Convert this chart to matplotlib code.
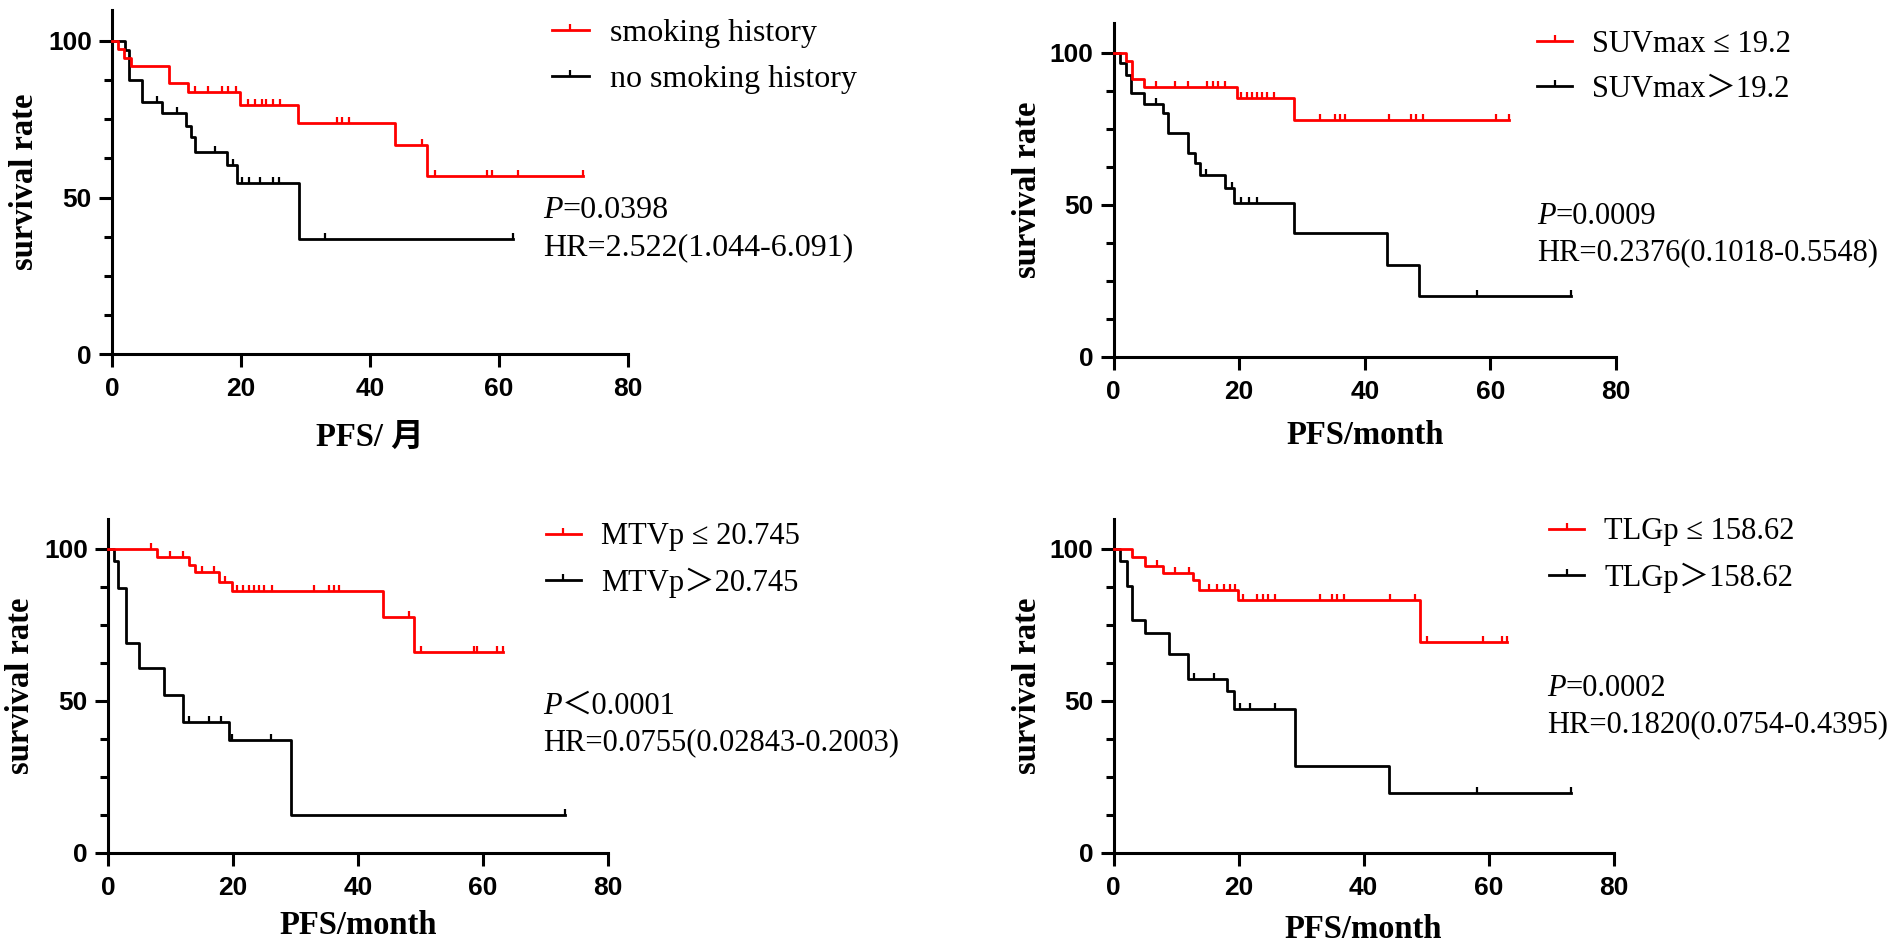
import numpy as np
import matplotlib
matplotlib.use('Agg')
import matplotlib.pyplot as plt
from matplotlib.lines import Line2D
from matplotlib.font_manager import FontProperties
from matplotlib.ticker import FixedLocator

# ---------------- data ----------------
# Panel 1: smoking history
p1_red_t = [0, 0.9, 1.8, 2.9, 8.9, 11.8, 19.9, 28.9, 43.9, 48.9]
p1_red_s = [100, 97.3, 94.6, 91.9, 86.5, 83.8, 79.7, 73.8, 66.8, 57.0]
p1_red_c = [12.8, 14.9, 17.0, 18.0, 19.3, 21.1, 22.1, 23.2, 23.9, 25.0, 26.0,
            34.9, 35.7, 36.8, 48.0, 50.1, 58.1, 58.9, 62.9, 73.0]
p1_blk_t = [0, 2.0, 2.7, 4.7, 7.8, 11.5, 12.3, 12.9, 17.8, 19.4, 29.0]
p1_blk_s = [100, 97.1, 87.6, 80.5, 77.0, 72.8, 69.4, 64.6, 60.3, 54.7, 36.8]
p1_blk_c = [6.9, 10.0, 15.9, 18.8, 20.2, 21.3, 23.0, 24.9, 25.9, 33.0, 62.2]

# Panel 2: SUVmax
p2_red_t = [0, 2.0, 3.0, 4.9, 19.7, 28.8]
p2_red_s = [100, 97.5, 91.5, 88.7, 85.2, 77.8]
p2_red_c = [6.8, 9.8, 11.8, 14.9, 15.8, 16.7, 17.8, 20.3, 21.2, 22.0, 22.9, 23.7,
            24.5, 25.5, 32.8, 35.3, 36.0, 36.9, 43.9, 47.3, 48.2, 49.2, 60.9, 62.9]
p2_blk_t = [0, 1.0, 1.9, 2.7, 4.9, 7.8, 8.7, 11.8, 12.9, 13.7, 17.8, 19.2, 28.8, 43.6, 48.7]
p2_blk_s = [100, 96.7, 92.9, 86.8, 83.3, 80.2, 73.6, 67.0, 63.7, 59.9, 55.5, 50.5, 40.7, 30.3, 20.2]
p2_blk_c = [6.7, 14.7, 18.9, 20.3, 21.5, 22.8, 57.8, 72.8]

# Panel 3: MTVp
p3_red_t = [0, 7.8, 12.9, 13.9, 17.8, 19.8, 44.0, 49.0]
p3_red_s = [100, 97.4, 94.8, 92.3, 89.3, 86.3, 77.5, 66.0]
p3_red_c = [6.9, 9.9, 12.0, 15.0, 16.9, 18.7, 20.7, 21.6, 22.5, 23.3, 24.2, 25.0,
            26.2, 33.0, 35.3, 36.2, 37.0, 48.2, 50.0, 58.5, 59.0, 62.2, 63.2]
p3_blk_t = [0, 0.9, 1.6, 2.9, 4.9, 9.0, 12.0, 19.4, 29.2]
p3_blk_s = [100, 95.9, 87.1, 69.2, 60.7, 52.0, 43.2, 37.1, 12.4]
p3_blk_c = [12.9, 16.2, 18.0, 19.9, 26.0, 73.1]

# Panel 4: TLGp
p4_red_t = [0, 3.0, 5.0, 7.9, 12.7, 13.6, 19.9, 49.1]
p4_red_s = [100, 97.4, 94.5, 92.1, 89.7, 86.4, 83.1, 69.3]
p4_red_c = [7.0, 9.9, 12.1, 15.2, 16.6, 17.6, 18.6, 19.5, 20.7, 23.0, 23.9, 24.7,
            25.9, 33.0, 34.9, 35.8, 36.9, 44.2, 48.2, 50.1, 59.1, 62.1, 62.9]
p4_blk_t = [0, 1.0, 2.1, 3.0, 5.0, 8.9, 11.9, 18.2, 19.2, 29.0, 44.0]
p4_blk_s = [100, 95.9, 87.9, 76.7, 72.5, 65.5, 57.3, 53.4, 47.3, 28.6, 19.6]
p4_blk_c = [12.9, 16.0, 20.2, 21.9, 25.9, 58.1, 73.2]

legend_labels = [
    ["smoking history", "no smoking history"],
    ["SUVmax \u2264 19.2", "SUVmax\uff1e19.2"],
    ["MTVp \u2264 20.745", "MTVp\uff1e20.745"],
    ["TLGp \u2264 158.62", "TLGp\uff1e158.62"],
]
p_texts = ["=0.0398", "=0.0009", "\uff1c0.0001", "=0.0002"]
hr_texts = ["HR=2.522(1.044-6.091)", "HR=0.2376(0.1018-0.5548)",
            "HR=0.0755(0.02843-0.2003)", "HR=0.1820(0.0754-0.4395)"]
x_labels = ["PFS/ \u6708", "PFS/month", "PFS/month", "PFS/month"]
y_label = "survival rate"
x_ticks = [0, 20, 40, 60, 80]
y_ticks = [0, 50, 100]
y_minor = [12.5, 25, 37.5, 62.5, 75, 87.5]

curves = [
    (p1_red_t, p1_red_s, p1_red_c, p1_blk_t, p1_blk_s, p1_blk_c),
    (p2_red_t, p2_red_s, p2_red_c, p2_blk_t, p2_blk_s, p2_blk_c),
    (p3_red_t, p3_red_s, p3_red_c, p3_blk_t, p3_blk_s, p3_blk_c),
    (p4_red_t, p4_red_s, p4_red_c, p4_blk_t, p4_blk_s, p4_blk_c),
]

# ---------------- style / layout ----------------
plt.rcParams['font.family'] = ['Liberation Sans', 'DejaVu Sans']
plt.rcParams['font.weight'] = 'bold'
SERIF = ['Liberation Serif', 'Noto Sans CJK SC', 'DejaVu Sans']
RED = '#FF0000'
BLACK = '#000000'
LW = 2.0
W, H = 1901, 944

# (left px, x-axis y px, width px, height px), font size, legend anchor, P pos, HR y, xlabel dy, ylabel dx
layouts = [
    dict(box=(112, 354, 516, 344.3), fs=23, leg=(552, 56.5), p=(543, 207), hr=245, xdy=80, ydx=87),
    dict(box=(1113.6, 357, 502.4, 334.4), fs=22, leg=(1537, 66.5), p=(1537, 213), hr=250, xdy=75, ydx=86.6),
    dict(box=(108, 853, 500, 334.4), fs=22, leg=(545.7, 560), p=(543, 703), hr=740, xdy=70, ydx=88),
    dict(box=(1113.6, 853, 500, 334.4), fs=22, leg=(1549, 555), p=(1547, 685), hr=722, xdy=74, ydx=86.6),
]

fig = plt.figure(figsize=(W / 100, H / 100), dpi=100)


def km(ax, t, s, c, color, z):
    t = np.asarray(t, float)
    s = np.asarray(s, float)
    c = np.asarray(c, float)
    tt = np.append(t, c.max())
    ss = np.append(s, s[-1])
    ax.step(tt, ss, where='post', color=color, lw=LW, clip_on=False, zorder=z)
    cy = s[np.searchsorted(t, c, side='right') - 1]
    ax.plot(c, cy, ls='none', marker=2, ms=4.5, mew=1.6, color=color,
            clip_on=False, zorder=z)


for i, lay in enumerate(layouts):
    left, base, w, h = lay['box']
    ax = fig.add_axes([left / W, (H - base) / H, w / W, h / H])

    def fx(px):
        return (px - left) / w

    def fy(py):
        return (base - py) / h

    rt, rs, rc, bt, bs, bc = curves[i]
    km(ax, bt, bs, bc, BLACK, 3)
    km(ax, rt, rs, rc, RED, 4)

    ax.set_xlim(0, 80)
    ax.set_ylim(0, 110)
    ax.set_xticks(x_ticks)
    ax.set_yticks(y_ticks)
    ax.yaxis.set_minor_locator(FixedLocator(y_minor))
    for sp in ['top', 'right']:
        ax.spines[sp].set_visible(False)
    for sp in ['left', 'bottom']:
        ax.spines[sp].set_linewidth(2.2)
    ax.tick_params(axis='both', which='major', direction='out', length=9.5,
                   width=2.2, labelsize=19, pad=5)
    ax.tick_params(axis='x', which='major', pad=7)
    ax.tick_params(axis='y', which='minor', direction='out', length=6, width=2.2)
    ax.patch.set_alpha(0)

    ax.set_xlabel(x_labels[i], fontsize=23.5, fontweight='bold', family=SERIF)
    ax.xaxis.label.set_va('center')
    ax.xaxis.set_label_coords(0.5, -(lay['xdy'] + 3) / h)
    ax.set_ylabel(y_label, fontsize=23.5, fontweight='bold', family=SERIF)
    ax.yaxis.label.set_va('center')
    ax.yaxis.set_label_coords(-lay['ydx'] / w, 0.5)

    fs = lay['fs']
    handles = [
        Line2D([], [], color=RED, lw=LW, marker=2, ms=4.5, mew=1.6),
        Line2D([], [], color=BLACK, lw=LW, marker=2, ms=4.5, mew=1.6),
    ]
    lx, ly = lay['leg']
    ax.legend(handles, legend_labels[i], loc='center left',
              bbox_to_anchor=(fx(lx), fy(ly)), frameon=False, borderpad=0,
              borderaxespad=0, handlelength=1.15, handletextpad=0.65,
              labelspacing=0.52, numpoints=1,
              prop=FontProperties(family=SERIF, size=fs, weight='normal'))

    px, py = lay['p']
    pt = ax.text(fx(px), fy(py + 3), 'P', transform=ax.transAxes, fontsize=fs,
                 family=SERIF, style='italic', weight='normal',
                 va='center', ha='left')
    ax.annotate(p_texts[i], xy=(1, 0), xycoords=pt, va='bottom', ha='left',
                fontsize=fs, family=SERIF, weight='normal')
    ax.text(fx(px), fy(lay['hr'] + 3), hr_texts[i], transform=ax.transAxes,
            fontsize=fs, family=SERIF, weight='normal', va='center', ha='left')

fig.savefig('out.png', dpi=100)
